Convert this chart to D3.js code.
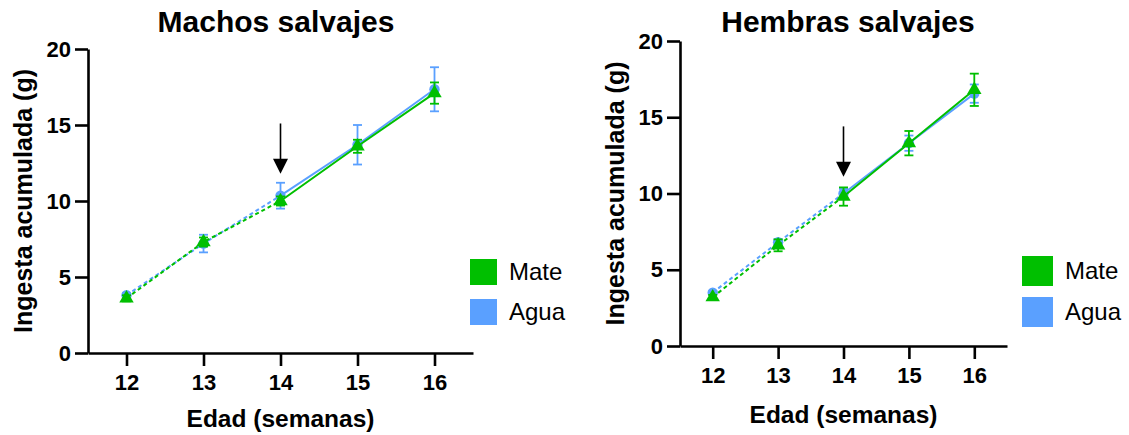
<!DOCTYPE html>
<html>
<head>
<meta charset="utf-8">
<script src="https://cdn.jsdelivr.net/npm/d3@7"></script>
<style>
  body { margin: 0; background: #fff; }
  svg { font-family: "Liberation Sans", Arial, sans-serif; }
</style>
</head>
<body>
<svg id="chart" width="1129" height="435"></svg>
<script>
const weeks = [12, 13, 14, 15, 16];
const yTicks = [0, 5, 10, 15, 20];

// machos
const mateMachos = [3.6, 7.3, 10.0, 13.6, 17.1];
const mateMachosErr = [0.2, 0.3, 0.3, 0.43, 0.7];
const aguaMachos = [3.8, 7.2, 10.35, 13.7, 17.35];
const aguaMachosErr = [0.15, 0.58, 0.85, 1.3, 1.45];

// hembras
const mateHembras = [3.2, 6.6, 9.8, 13.3, 16.8];
const mateHembrasErr = [0.15, 0.39, 0.6, 0.8, 1.06];
const aguaHembras = [3.5, 6.8, 10.0, 13.3, 16.55];
const aguaHembrasErr = [0.1, 0.2, 0.3, 0.5, 0.6];

// flecha: semana, desde, hasta (g)
const arrowMachos = [14, 15.1, 11.8];
const arrowHembras = [14, 14.4, 11.1];

const green = '#00bf00';
const blue = '#5aa0ff';

const svg = d3.select('#chart');

const drawPanel = (opts) => {
  const x = d3.scaleLinear().domain([11.5, 16.5]).range([opts.left, opts.right]);
  const y = d3.scaleLinear().domain([0, 20]).range([opts.bottom, opts.top]);
  const g = svg.append('g');

  // ejes
  const ax = g.append('g')
    .attr('transform', `translate(0,${opts.bottom})`)
    .call(d3.axisBottom(x).tickValues(weeks).tickFormat(d3.format('d'))
      .tickSize(13).tickSizeOuter(0).tickPadding(8));
  const ay = g.append('g')
    .attr('transform', `translate(${opts.left},0)`)
    .call(d3.axisLeft(y).tickValues(yTicks).tickFormat(d3.format('d'))
      .tickSize(13).tickSizeOuter(0).tickPadding(4));
  [ax, ay].forEach(a => {
    a.selectAll('path, line').attr('stroke', '#000').attr('stroke-width', 2.6);
    a.selectAll('text').attr('fill', '#000').attr('font-size', 22).attr('font-weight', 'bold')
      .attr('font-family', '"Liberation Sans", Arial, sans-serif');
  });

  const series = [
    { vals: opts.agua, err: opts.aguaErr, color: blue, shape: d3.symbolCircle, size: 85 },
    { vals: opts.mate, err: opts.mateErr, color: green, shape: d3.symbolTriangle, size: 90 }
  ];

  series.forEach(s => {
    const pts = weeks.map((w, i) => ({ w, v: s.vals[i], e: s.err[i] }));
    const line = d3.line().x(d => x(d.w)).y(d => y(d.v));

    g.append('path').datum(pts.slice(0, 3))
      .attr('d', line).attr('fill', 'none').attr('stroke', s.color)
      .attr('stroke-width', 2).attr('stroke-dasharray', '4,3');
    g.append('path').datum(pts.slice(2))
      .attr('d', line).attr('fill', 'none').attr('stroke', s.color)
      .attr('stroke-width', 2);

    const eb = g.append('g').selectAll('g').data(pts).join('g')
      .attr('stroke', s.color).attr('stroke-width', 1.8);
    eb.append('line')
      .attr('x1', d => x(d.w)).attr('x2', d => x(d.w))
      .attr('y1', d => y(d.v - d.e)).attr('y2', d => y(d.v + d.e));
    eb.append('line')
      .attr('x1', d => x(d.w) - 4.5).attr('x2', d => x(d.w) + 4.5)
      .attr('y1', d => y(d.v + d.e)).attr('y2', d => y(d.v + d.e));
    eb.append('line')
      .attr('x1', d => x(d.w) - 4.5).attr('x2', d => x(d.w) + 4.5)
      .attr('y1', d => y(d.v - d.e)).attr('y2', d => y(d.v - d.e));

    g.append('g').selectAll('path').data(pts).join('path')
      .attr('d', d3.symbol().type(s.shape).size(s.size))
      .attr('transform', d => `translate(${x(d.w)},${y(d.v)})`)
      .attr('fill', s.color);
  });

  // flecha
  const [aw, a0, a1] = opts.arrow;
  const axp = x(aw);
  g.append('line')
    .attr('x1', axp).attr('x2', axp)
    .attr('y1', y(a0)).attr('y2', y(a1) - 12)
    .attr('stroke', '#000').attr('stroke-width', 1.6);
  g.append('path')
    .attr('d', `M${axp - 7.5},${y(a1) - 15}L${axp + 7.5},${y(a1) - 15}L${axp},${y(a1)}Z`)
    .attr('fill', '#000');

  // títulos
  g.append('text')
    .attr('x', opts.titleX).attr('y', 32)
    .attr('text-anchor', 'middle').attr('font-size', 30).attr('font-weight', 'bold')
    .text(opts.title);
  g.append('text')
    .attr('x', (opts.left + opts.right) / 2 + opts.xTitleShift).attr('y', opts.xTitleY)
    .attr('text-anchor', 'middle').attr('font-size', 24.5).attr('font-weight', 'bold')
    .text('Edad (semanas)');
  g.append('text')
    .attr('transform', `translate(${opts.yTitleX},${(opts.top + opts.bottom) / 2}) rotate(-90)`)
    .attr('text-anchor', 'middle').attr('font-size', 25).attr('font-weight', 'bold')
    .text('Ingesta acumulada (g)');

  // leyenda
  const leg = [['Mate', green], ['Agua', blue]];
  leg.forEach(([name, c], i) => {
    g.append('rect')
      .attr('x', opts.legX).attr('y', opts.legY + i * opts.legStep)
      .attr('width', opts.legW).attr('height', opts.legH).attr('fill', c);
    g.append('text')
      .attr('x', opts.legX + opts.legW + 12).attr('y', opts.legY + i * opts.legStep + opts.legH / 2 + 8)
      .attr('font-size', 24).text(name);
  });
};

drawPanel({
  left: 88, right: 473, top: 49, bottom: 353,
  mate: mateMachos, mateErr: mateMachosErr, agua: aguaMachos, aguaErr: aguaMachosErr,
  arrow: arrowMachos, title: 'Machos salvajes', titleX: 276,
  xTitleShift: 0, xTitleY: 427, yTitleX: 32,
  legX: 470, legY: 259, legW: 27, legH: 26, legStep: 40
});

drawPanel({
  left: 680, right: 1007, top: 41, bottom: 346,
  mate: mateHembras, mateErr: mateHembrasErr, agua: aguaHembras, aguaErr: aguaHembrasErr,
  arrow: arrowHembras, title: 'Hembras salvajes', titleX: 848,
  xTitleShift: 0, xTitleY: 423, yTitleX: 624,
  legX: 1022, legY: 256, legW: 31, legH: 30, legStep: 41
});
</script>
</body>
</html>
